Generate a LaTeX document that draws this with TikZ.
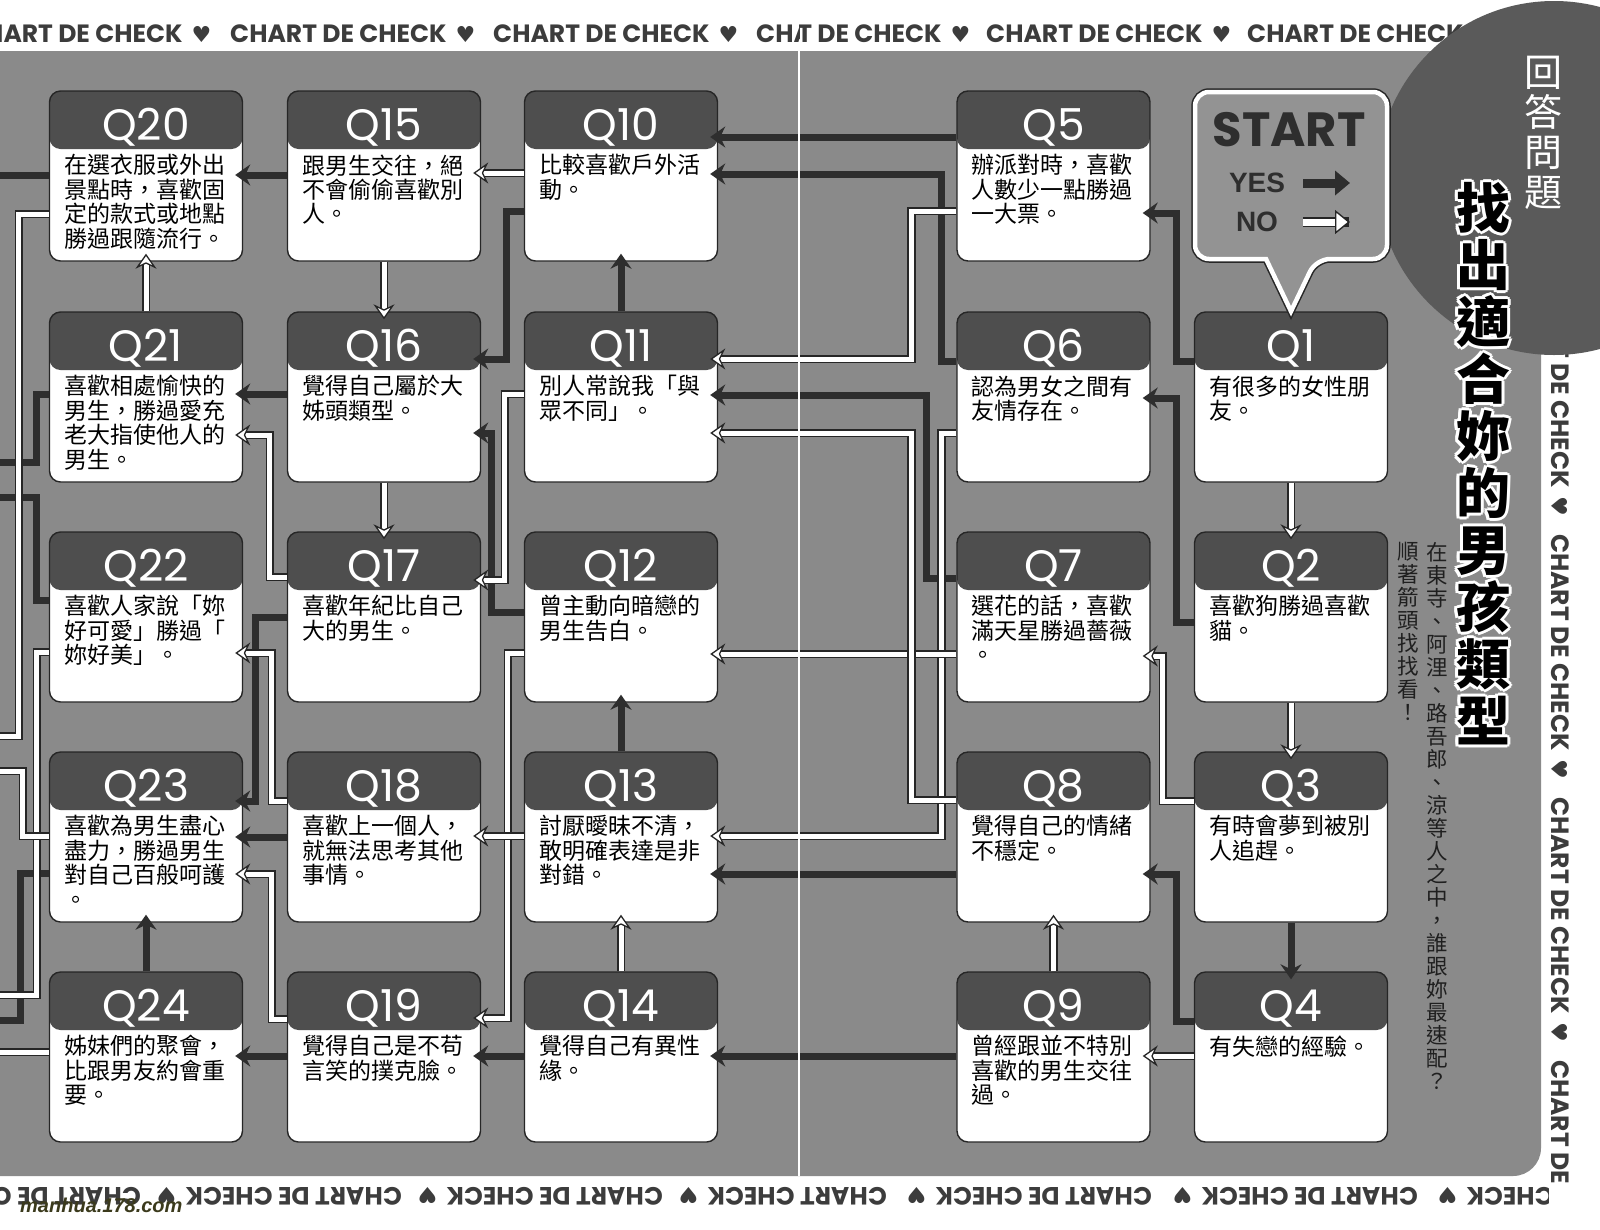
\documentclass[tikz,border=0pt]{standalone}
\usepackage{fontspec}
\usetikzlibrary{arrows.meta}
\newfontfamily\cjkfont{Noto Sans CJK TC}
\newfontfamily\latinfont{Poppins}
\newfontfamily\heavyfont{Liberation Sans}
\newfontfamily\symfont{DejaVu Sans}
\definecolor{panelgray}{HTML}{8A8A8A}
\definecolor{headgray}{HTML}{4E4E4E}
\definecolor{circlegray}{HTML}{5A5A5A}
\definecolor{yescol}{HTML}{2E2E2E}
\definecolor{edgecol}{HTML}{262626}
\definecolor{bandcol}{HTML}{3C3C3C}
\definecolor{markcol}{HTML}{3B3A1C}
\newcommand{\bandtext}{CHART DE CHECK\hspace{9pt}{\symfont\fontsize{22}{22}\selectfont ♥}}

\begin{document}
\begin{tikzpicture}[x=1pt,y=-1pt,
  qbox/.style={rectangle, rounded corners=11pt, minimum width=193pt, minimum height=170pt,
    inner sep=0pt, fill=white, draw=edgecol, line width=1.4pt,
    path picture={\fill[headgray] (path picture bounding box.north west) rectangle ([yshift=-58pt]path picture bounding box.north east);}},
  qlabel/.style={font=\latinfont\fontsize{44}{44}\selectfont, text=white, inner sep=0pt, anchor=base},
  qtext/.style={font=\cjkfont\fontsize{23}{24.4}\selectfont, text=black, text width=172pt,
    align=left, inner sep=0pt, anchor=north west},
  yesline/.style={draw=yescol, line width=7pt},
  yes/.style={yesline, shorten >=-8pt, -{Stealth[length=15pt,width=21pt,inset=5pt]}},
  noline/.style={draw=white, line width=5pt, preaction={draw=edgecol, line width=8.5pt}},
  no/.style={draw=white, line width=5pt, shorten >=-8pt,
    preaction={draw=edgecol, line width=8.5pt, shorten >=1pt, -},
    -{Stealth[length=15pt,width=21pt,inset=5pt,fill=white,color=edgecol,line width=1.3pt]}},
  band/.style={font=\latinfont\bfseries\fontsize{25}{25}\selectfont, text=bandcol, inner sep=0pt, anchor=west},
  bubble/.style={fill=panelgray!92!white, draw=white, line width=4.5pt, preaction={draw=edgecol, line width=7.5pt}},
  vtitle/.style={align=center, inner sep=0pt, anchor=north},
  bigtitle/.style={vtitle, font=\cjkfont\bfseries\fontsize{54}{57}\selectfont},
  subtitle/.style={vtitle, text=black!88, font=\cjkfont\fontsize{21.5}{23}\selectfont}]
\useasboundingbox (0,0) rectangle (1600,1229);
% page and grey panel
\fill[white] (0,0) rectangle (1600,1229);
\fill[panelgray, rounded corners=28pt] (-40,51) rectangle (1541,1176);
\coordinate (lpage) at (0,0);
% chart de check bands
\begin{scope}
  \clip (0,0) rectangle (799,51);
  \foreach \s in {-34,230,493,756} \node[band] (topl\s) at (\s,34) {\bandtext};
\end{scope}
\begin{scope}
  \clip (799,0) rectangle (1600,51);
  \foreach \s in {725,986,1247} \node[band] (topr\s) at (\s,34) {\bandtext};
\end{scope}
\begin{scope}
  \clip (1541,0) rectangle (1600,1182);
  \foreach \s in {8,271,534,797,1060} \node[band, rotate=-90] (side\s) at (1560,\s) {\bandtext};
\end{scope}
\begin{scope}
  \clip (0,1176) rectangle (799,1229);
  \foreach \s in {141,402,663,924} \node[band, rotate=180] (botl\s) at (\s,1196) {\bandtext};
\end{scope}
\begin{scope}
  \clip (799,1176) rectangle (1548,1229);
  \foreach \s in {887,1152,1418,1683} \node[band, rotate=180] (botr\s) at (\s,1196) {\bandtext};
\end{scope}
% dark circle top right
\fill[circlegray] (1554,178) circle[radius=177pt];
% question boxes
\foreach \n/\x/\y/\t in {
  20/146/176/{在選衣服或外出\\景點時，喜歡固\\定的款式或地點\\勝過跟隨流行。},
  15/384/176/{跟男生交往，絕\\不會偷偷喜歡別\\人。},
  10/621/176/{比較喜歡戶外活\\動。},
  5/1053.5/176/{辦派對時，喜歡\\人數少一點勝過\\一大票。},
  21/146/397/{喜歡相處愉快的\\男生，勝過愛充\\老大指使他人的\\男生。},
  16/384/397/{覺得自己屬於大\\姊頭類型。},
  11/621/397/{別人常說我「與\\眾不同」。},
  6/1053.5/397/{認為男女之間有\\友情存在。},
  1/1291/397/{有很多的女性朋\\友。},
  22/146/617/{喜歡人家說「妳\\好可愛」勝過「\\妳好美」。},
  17/384/617/{喜歡年紀比自己\\大的男生。},
  12/621/617/{曾主動向暗戀的\\男生告白。},
  7/1053.5/617/{選花的話，喜歡\\滿天星勝過薔薇\\。},
  2/1291/617/{喜歡狗勝過喜歡\\貓。},
  23/146/837/{喜歡為男生盡心\\盡力，勝過男生\\對自己百般呵護\\。},
  18/384/837/{喜歡上一個人，\\就無法思考其他\\事情。},
  13/621/837/{討厭曖昧不清，\\敢明確表達是非\\對錯。},
  8/1053.5/837/{覺得自己的情緒\\不穩定。},
  3/1291/837/{有時會夢到被別\\人追趕。},
  24/146/1057/{姊妹們的聚會，\\比跟男友約會重\\要。},
  19/384/1057/{覺得自己是不苟\\言笑的撲克臉。},
  14/621/1057/{覺得自己有異性\\緣。},
  9/1053.5/1057/{曾經跟並不特別\\喜歡的男生交往\\過。},
  4/1291/1057/{有失戀的經驗。}}{
  \node[qbox] (q\n) at (\x,\y) {};
  \node[qlabel] (q\n-l) at ([yshift=-50pt]q\n.north) {Q\n};
  \node[qtext] (q\n-t) at ([xshift=15pt,yshift=-64pt]q\n.north west) {\t};
}
% yes arrows
\draw[yes] (q1.west|-0,361) -- ++(-17,0) |- (q5.east|-0,213);
\draw[yes] (q2.west|-0,622) -- ++(-17,0) |- (q6.east|-0,398);
\draw[yes] (q3.south) -- (q4.north);
\draw[yes] (q4.west|-0,1021) -- ++(-17,0) |- (q8.east|-0,874);
\draw[yes] (q5.west|-0,137) -- (q10.east|-0,137);
\draw[yes] (q6.west|-0,361) -- ++(-15,0) |- (q10.east|-0,174);
\draw[yes] (q7.west|-0,578) -- ++(-30,0) |- (q11.east|-0,395);
\draw[yes] (q8.west|-0,874) -- (q13.east|-0,874);
\draw[yes] (q9.west|-0,1056) -- (q14.east|-0,1056);
\draw[yes] (q10.west|-0,211) -- ++(-17,0) |- (q16.east|-0,359);
\draw[yes] (q11.north) -- (q10.south);
\draw[yes] (q12.west|-0,612) -- ++(-32,0) |- (q16.east|-0,433);
\draw[yes] (q13.north) -- (q12.south);
\draw[yes] (q14.west|-0,1056) -- (q19.east|-0,1056);
\draw[yes] (q15.west|-0,175) -- (q20.east|-0,175);
\draw[yes] (q16.west|-0,394) -- (q21.east|-0,394);
\draw[yes] (q17.west|-0,617) -- ++(-31,0) |- (q23.east|-0,801);
\draw[yes] (q18.west|-0,837) -- (q23.east|-0,837);
\draw[yes] (q19.west|-0,1056) -- (q24.east|-0,1056);
\draw[yes] (q24.north) -- (q23.south);
\draw[yesline] (q20.west|-0,175) -- (lpage|-0,175);
\draw[yesline] (q21.west|-0,394) -- ++(-12,0) |- (lpage|-0,462);
\draw[yesline] (q22.west|-0,600) -- ++(-12,0) |- (lpage|-0,497);
\draw[yesline] (q23.west|-0,873) -- ++(-28,0) |- (lpage|-0,1020);
% no arrows
\draw[no] (q1.south) -- (q2.north);
\draw[no] (q2.south) -- (q3.north);
\draw[no] (q3.west|-0,801) -- ++(-31,0) |- (q7.east|-0,656);
\draw[no] (q4.west|-0,1056) -- (q9.east|-0,1056);
\draw[no] (q5.west|-0,211) -- ++(-45,0) |- (q11.east|-0,359);
\draw[no] (q6.west|-0,433) -- ++(-15,0) |- (q13.east|-0,836);
\draw[no] (q7.west|-0,654) -- (q12.east|-0,654);
\draw[no] (q8.west|-0,800) -- ++(-45,0) |- (q11.east|-0,433);
\draw[no] (q9.north) -- (q8.south);
\draw[no] (q10.west|-0,173) -- (q15.east|-0,173);
\draw[no] (q11.west|-0,394) -- ++(-19,0) |- (q17.east|-0,580);
\draw[no] (q12.west|-0,653) -- ++(-16,0) |- (q19.east|-0,1018);
\draw[no] (q13.west|-0,836) -- (q18.east|-0,836);
\draw[no] (q14.north) -- (q13.south);
\draw[no] (q15.south) -- (q16.north);
\draw[no] (q16.south) -- (q17.north);
\draw[no] (q17.west|-0,577) -- ++(-17,0) |- (q21.east|-0,435);
\draw[no] (q18.west|-0,801) -- ++(-15,0) |- (q22.east|-0,653);
\draw[no] (q19.west|-0,1019) -- ++(-15,0) |- (q23.east|-0,874);
\draw[no] (q21.north) -- (q20.south);
\draw[noline] (q20.west|-0,214) -- ++(-30,0) |- (lpage|-0,736);
\draw[noline] (q22.west|-0,652) -- ++(-12,0) |- (lpage|-0,995);
\draw[noline] (q23.west|-0,836) -- ++(-26,0) |- (lpage|-0,771);
\draw[noline] (q24.west|-0,1052) -- (lpage|-0,1052);
% fold of the page
\draw[white, line width=1.2pt] (799,51) -- (799,1176);
% start bubble
\draw[bubble] (1291,92) [rounded corners=14pt] -- (1387,92) -- (1387,259) -- (1316,259)
  [sharp corners] -- (q1.north) -- (1266,259) [rounded corners=14pt] -- (1195,259) -- (1195,92) -- cycle;
\node[font=\latinfont\bfseries\fontsize{48}{48}\selectfont, text=yescol, inner sep=0pt] (startlbl) at (1289,130) {START};
\node[font=\heavyfont\bfseries\fontsize{28}{28}\selectfont, text=yescol, inner sep=0pt] (yeslbl) at (1257,183) {YES};
\node[font=\heavyfont\bfseries\fontsize{28}{28}\selectfont, text=yescol, inner sep=0pt] (nolbl) at (1257,222) {NO};
\draw[yes, shorten >=0pt, line width=9pt, -{Triangle[length=15pt,width=24pt]}] ([xshift=46pt]yeslbl.center) -- ++(47,0);
\draw[no, shorten >=0pt, line width=7pt, preaction={draw=edgecol, line width=10pt, shorten >=1pt, -},
  -{Triangle[length=15pt,width=24pt,fill=white,color=edgecol,line width=1.4pt]}] ([xshift=46pt]nolbl.center) -- ++(47,0);
% titles
\node[vtitle, text=white, font=\cjkfont\fontsize{38}{40}\selectfont] (ask) at (1543,56) {回\\答\\問\\題};
\foreach \dx/\dy [count=\k] in {-3/0,3/0,0/-3,0/3,-2.2/-2.2,2.2/2.2,-2.2/2.2,2.2/-2.2}
  \node[bigtitle, text=white] (halo\k) at (1483+\dx,182+\dy) {找\\出\\適\\合\\妳\\的\\男\\孩\\類\\型};
\node[bigtitle, text=black] (title) at (1483,182) {找\\出\\適\\合\\妳\\的\\男\\孩\\類\\型};
\node[subtitle] (sub1) at (1437,542) {在\\東\\寺\\、\\阿\\浬\\、\\路\\吾\\郎\\、\\涼\\等\\人\\之\\中\\，\\誰\\跟\\妳\\最\\速\\配\\？};
\node[subtitle] (sub2) at (1408,542) {順\\著\\箭\\頭\\找\\找\\看\\！};
% watermark
\node[anchor=west, inner sep=0pt, text=markcol, font=\heavyfont\bfseries\itshape\fontsize{20}{20}\selectfont] (mark) at (20,1205) {manhua.178.com};
\end{tikzpicture}
\end{document}
